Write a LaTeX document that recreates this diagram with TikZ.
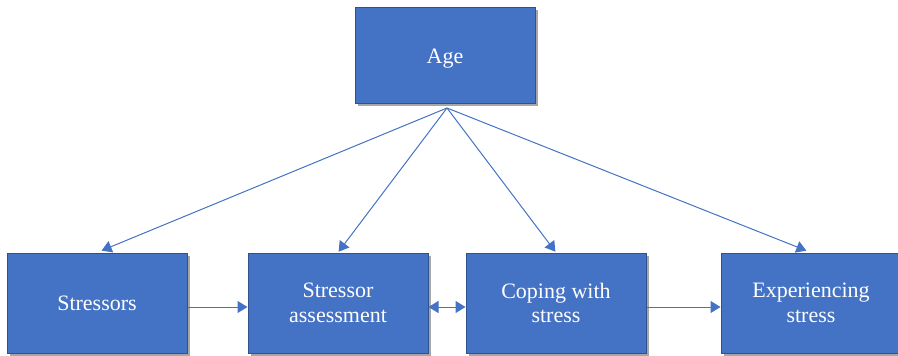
\documentclass[tikz,border=0pt]{standalone}
\usepackage{fontspec}
\setmainfont{Liberation Serif}
\usetikzlibrary{arrows.meta,shadows}
\definecolor{boxfill}{HTML}{4472C4}
\definecolor{boxline}{HTML}{2F528F}
\begin{document}
\begin{tikzpicture}[x=1pt,y=-1pt,
  blockbox/.style={draw=boxline,line width=1pt,fill=boxfill,text=white,
    minimum width=180pt,minimum height=100pt,inner sep=0pt,align=center,
    font=\fontsize{22}{24.5}\selectfont,
    drop shadow={shadow xshift=2.5pt,shadow yshift=-2.5pt,opacity=0.35,fill=black}},
  conn/.style={draw=boxfill,line width=1pt,-{Triangle[length=10pt,width=12pt]}},
  dconn/.style={draw=boxfill,line width=1pt,{Triangle[length=10pt,width=12pt]}-{Triangle[length=10pt,width=12pt]}}]
\useasboundingbox (0,0) rectangle (898,356);
\node[blockbox,minimum height=96pt,
  label={[text=white,font=\fontsize{22}{24.5}\selectfont,yshift=-4pt]center:Age}] (age) at (445,55) {};
\node[blockbox] (str) at (97,303) {Stressors};
\node[blockbox] (ass) at (338,303) {Stressor\\assessment};
\node[blockbox] (cop) at (556,303) {Coping with\\stress};
\node[blockbox] (exp) at (811,303) {Experiencing\\stress};
\coordinate (hub) at (447,108);
\draw[conn,shorten >=5pt] (hub) -- (str.north);
\draw[conn,shorten >=1pt] (hub) -- (ass.north);
\draw[conn,shorten >=1pt] (hub) -- (cop.north);
\draw[conn,shorten >=5pt] (hub) -- (exp.north);
\draw[conn] ([yshift=-4pt]str.east) -- ([yshift=-4pt]ass.west);
\draw[dconn] ([yshift=-4pt]ass.east) -- ([yshift=-4pt]cop.west);
\draw[conn] ([yshift=-4pt]cop.east) -- ([yshift=-4pt]exp.west);
\end{tikzpicture}
\end{document}
